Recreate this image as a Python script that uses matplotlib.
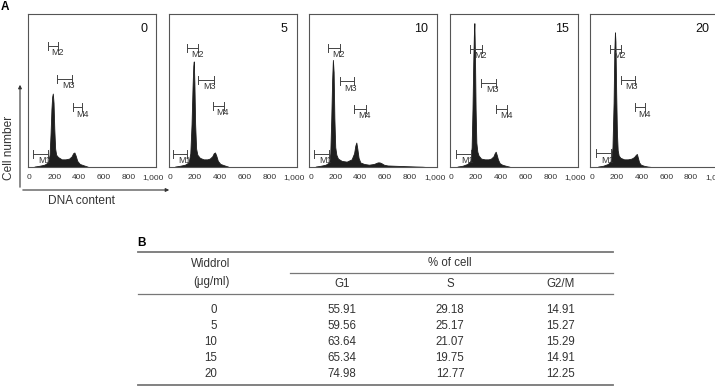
import matplotlib
matplotlib.use("Agg")
import matplotlib.pyplot as plt

plt.rcParams['font.family'] = ['Liberation Sans', 'DejaVu Sans']

W, H = 715, 389

# --- panel A data: DNA histograms (x = DNA content, y = % of panel height) ---
doses = ['0', '5', '10', '15', '20']

h0_x = [40, 80, 120, 150, 162, 170, 177, 183, 188, 194, 200, 207, 215, 230, 260, 290, 320, 340, 352, 362, 372, 385, 405, 440, 470]
h0_y = [0.3, 0.8, 1.5, 3, 8, 22, 38, 46, 48, 42, 25, 12, 8, 6.5, 5, 5, 5.5, 7, 9, 9.5, 7.5, 4, 2, 1, 0.2]

h5_x = [40, 80, 120, 150, 163, 173, 181, 187, 191, 196, 202, 210, 220, 240, 270, 300, 320, 340, 352, 362, 372, 385, 405, 440, 470]
h5_y = [0.3, 0.8, 1.5, 3, 9, 28, 52, 66, 69, 55, 28, 12, 8, 6, 5, 5, 5.5, 7, 9, 9.5, 7.5, 4, 2, 1, 0.2]

h10_x = [40, 80, 120, 150, 158, 166, 173, 179, 185, 191, 198, 207, 220, 250, 290, 330, 350, 360, 368, 376, 386, 400, 430,
         470, 510, 540, 555, 570, 590, 620, 680, 750, 820, 900, 930]
h10_y = [0.3, 0.8, 1.5, 3, 9, 32, 57, 70, 62, 32, 13, 8, 5.5, 4, 3.5, 5, 9, 14, 16, 12, 6, 3, 2,
         1.5, 2, 3, 3, 2.5, 1.5, 1, 0.8, 0.6, 0.4, 0.2, 0]

h15_x = [50, 90, 130, 155, 164, 171, 177, 182, 186, 191, 196, 202, 210, 220, 240, 270, 300, 320, 340, 350, 358, 366, 376, 390, 410, 440, 470]
h15_y = [0.3, 0.8, 2, 4, 13, 38, 68, 86, 94, 72, 38, 16, 10, 7.5, 5.5, 5, 5, 5.5, 7, 9, 10, 8, 5, 2.5, 1.5, 0.8, 0.2]

h20_x = [50, 90, 130, 155, 166, 175, 181, 186, 190, 196, 202, 208, 216, 230, 260, 290, 320, 340, 355, 363, 371, 381, 395, 420, 450, 480]
h20_y = [0.3, 0.8, 2, 4, 13, 42, 76, 88, 82, 48, 22, 11, 7.5, 6, 5, 5, 5.5, 6.5, 8, 8.5, 6, 3, 1.5, 0.8, 0.3, 0]

hist_x = [h0_x, h5_x, h10_x, h15_x, h20_x]
hist_y = [h0_y, h5_y, h10_y, h15_y, h20_y]

# gate markers (start, end, level) for M1..M4 per panel
gate_names = ['M1', 'M2', 'M3', 'M4']
gates = [
    [(30, 146, 8.5), (146, 229, 79), (225, 344, 57.5), (347, 426, 39)],
    [(24, 136, 8.5), (136, 224, 78), (224, 352, 57), (344, 432, 40)],
    [(24, 145, 8.5), (137, 234, 78), (234, 347, 56), (347, 444, 38)],
    [(40, 160, 8.5), (152, 248, 77), (240, 360, 55), (360, 448, 38)],
    [(32, 152, 9), (144, 232, 77), (232, 344, 57), (344, 432, 39)],
]
xticks = [0, 200, 400, 600, 800, 1000]
xtick_labels = ['0', '200', '400', '600', '800', '1,000']

# --- panel B data: table ---
widdrol = ['0', '5', '10', '15', '20']
g1 = ['55.91', '59.56', '63.64', '65.34', '74.98']
s_phase = ['29.18', '25.17', '21.07', '19.75', '12.77']
g2m = ['14.91', '15.27', '15.29', '14.91', '12.25']

fig = plt.figure(figsize=(W / 100, H / 100), dpi=100)


def fx(px):
    return px / W


def fy(py):
    return 1 - py / H


txt = '#333333'
dark = '#1e1e1e'

for i in range(5):
    left = 28 + i * 140.6
    ax = fig.add_axes([fx(left), fy(167), 128 / W, 153 / H])
    ax.fill_between(hist_x[i], hist_y[i], 0, color=dark, lw=0.6)
    ax.set_xlim(-12, 1020)
    ax.set_ylim(0, 100)
    ax.set_yticks([])
    ax.set_xticks(xticks)
    ax.set_xticklabels(xtick_labels)
    ax.tick_params(axis='x', length=0, pad=5, labelsize=6, labelcolor=txt)
    for sp in ax.spines.values():
        sp.set_color('#555555')
        sp.set_linewidth(0.8)
    ax.text(0.93, 0.94, doses[i], transform=ax.transAxes, ha='right', va='top',
            fontsize=9, color='#111111')
    for name, (a, b, lvl) in zip(gate_names, gates[i]):
        ax.plot([a, b], [lvl, lvl], color='#444444', lw=0.7)
        ax.plot([a, a], [lvl - 2.6, lvl + 2.6], color='#444444', lw=0.7)
        ax.plot([b, b], [lvl - 2.6, lvl + 2.6], color='#444444', lw=0.7)
        ax.text(a + (b - a) * 0.35, lvl - 1.5, name, ha='left', va='top',
                fontsize=6.5, color=txt)

# axis arrows
arr = dict(arrowstyle='-|>', color='#333333', lw=0.8, mutation_scale=5)
fig.add_artist(matplotlib.patches.FancyArrowPatch((fx(20), fy(190)), (fx(20), fy(82)),
                                                  transform=fig.transFigure, **arr))
fig.add_artist(matplotlib.patches.FancyArrowPatch((fx(20), fy(190)), (fx(172), fy(190)),
                                                  transform=fig.transFigure, **arr))
fig.text(fx(9), fy(148), 'Cell number', rotation=90, ha='center', va='center', fontsize=8.6, color=txt)
fig.text(fx(81), fy(201), 'DNA content', ha='center', va='center', fontsize=8.6, color=txt)

fig.text(fx(1), fy(0.5), 'A', ha='left', va='top', fontsize=8.5, fontweight='bold')
fig.text(fx(137), fy(243), 'B', ha='left', va='center', fontsize=8.5, fontweight='bold')

# table
lc = '#777777'
fig.add_artist(plt.Line2D([fx(138), fx(613)], [fy(252), fy(252)], color=lc, lw=1.3))
fig.add_artist(plt.Line2D([fx(290), fx(613)], [fy(273), fy(273)], color=lc, lw=0.9))
fig.add_artist(plt.Line2D([fx(138), fx(613)], [fy(294), fy(294)], color=lc, lw=0.9))
fig.add_artist(plt.Line2D([fx(138), fx(613)], [fy(385), fy(385)], color=lc, lw=1.3))

fs = 8.3
fig.text(fx(211), fy(264), 'Widdrol', ha='center', va='center', fontsize=fs, color=txt)
fig.text(fx(211), fy(282), '(\u03bcg/ml)', ha='center', va='center', fontsize=fs, color=txt)
fig.text(fx(428), fy(263), '% of cell', ha='left', va='center', fontsize=fs, color=txt)
fig.text(fx(342), fy(284), 'G1', ha='center', va='center', fontsize=fs, color=txt)
fig.text(fx(450), fy(284), 'S', ha='center', va='center', fontsize=fs, color=txt)
fig.text(fx(561), fy(284), 'G2/M', ha='center', va='center', fontsize=fs, color=txt)

for r in range(len(widdrol)):
    y = fy(310 + r * 16)
    fig.text(fx(217), y, widdrol[r], ha='right', va='center', fontsize=fs, color=txt)
    fig.text(fx(342), y, g1[r], ha='center', va='center', fontsize=fs, color=txt)
    fig.text(fx(450), y, s_phase[r], ha='center', va='center', fontsize=fs, color=txt)
    fig.text(fx(561), y, g2m[r], ha='center', va='center', fontsize=fs, color=txt)

fig.savefig('out.png', dpi=100)
